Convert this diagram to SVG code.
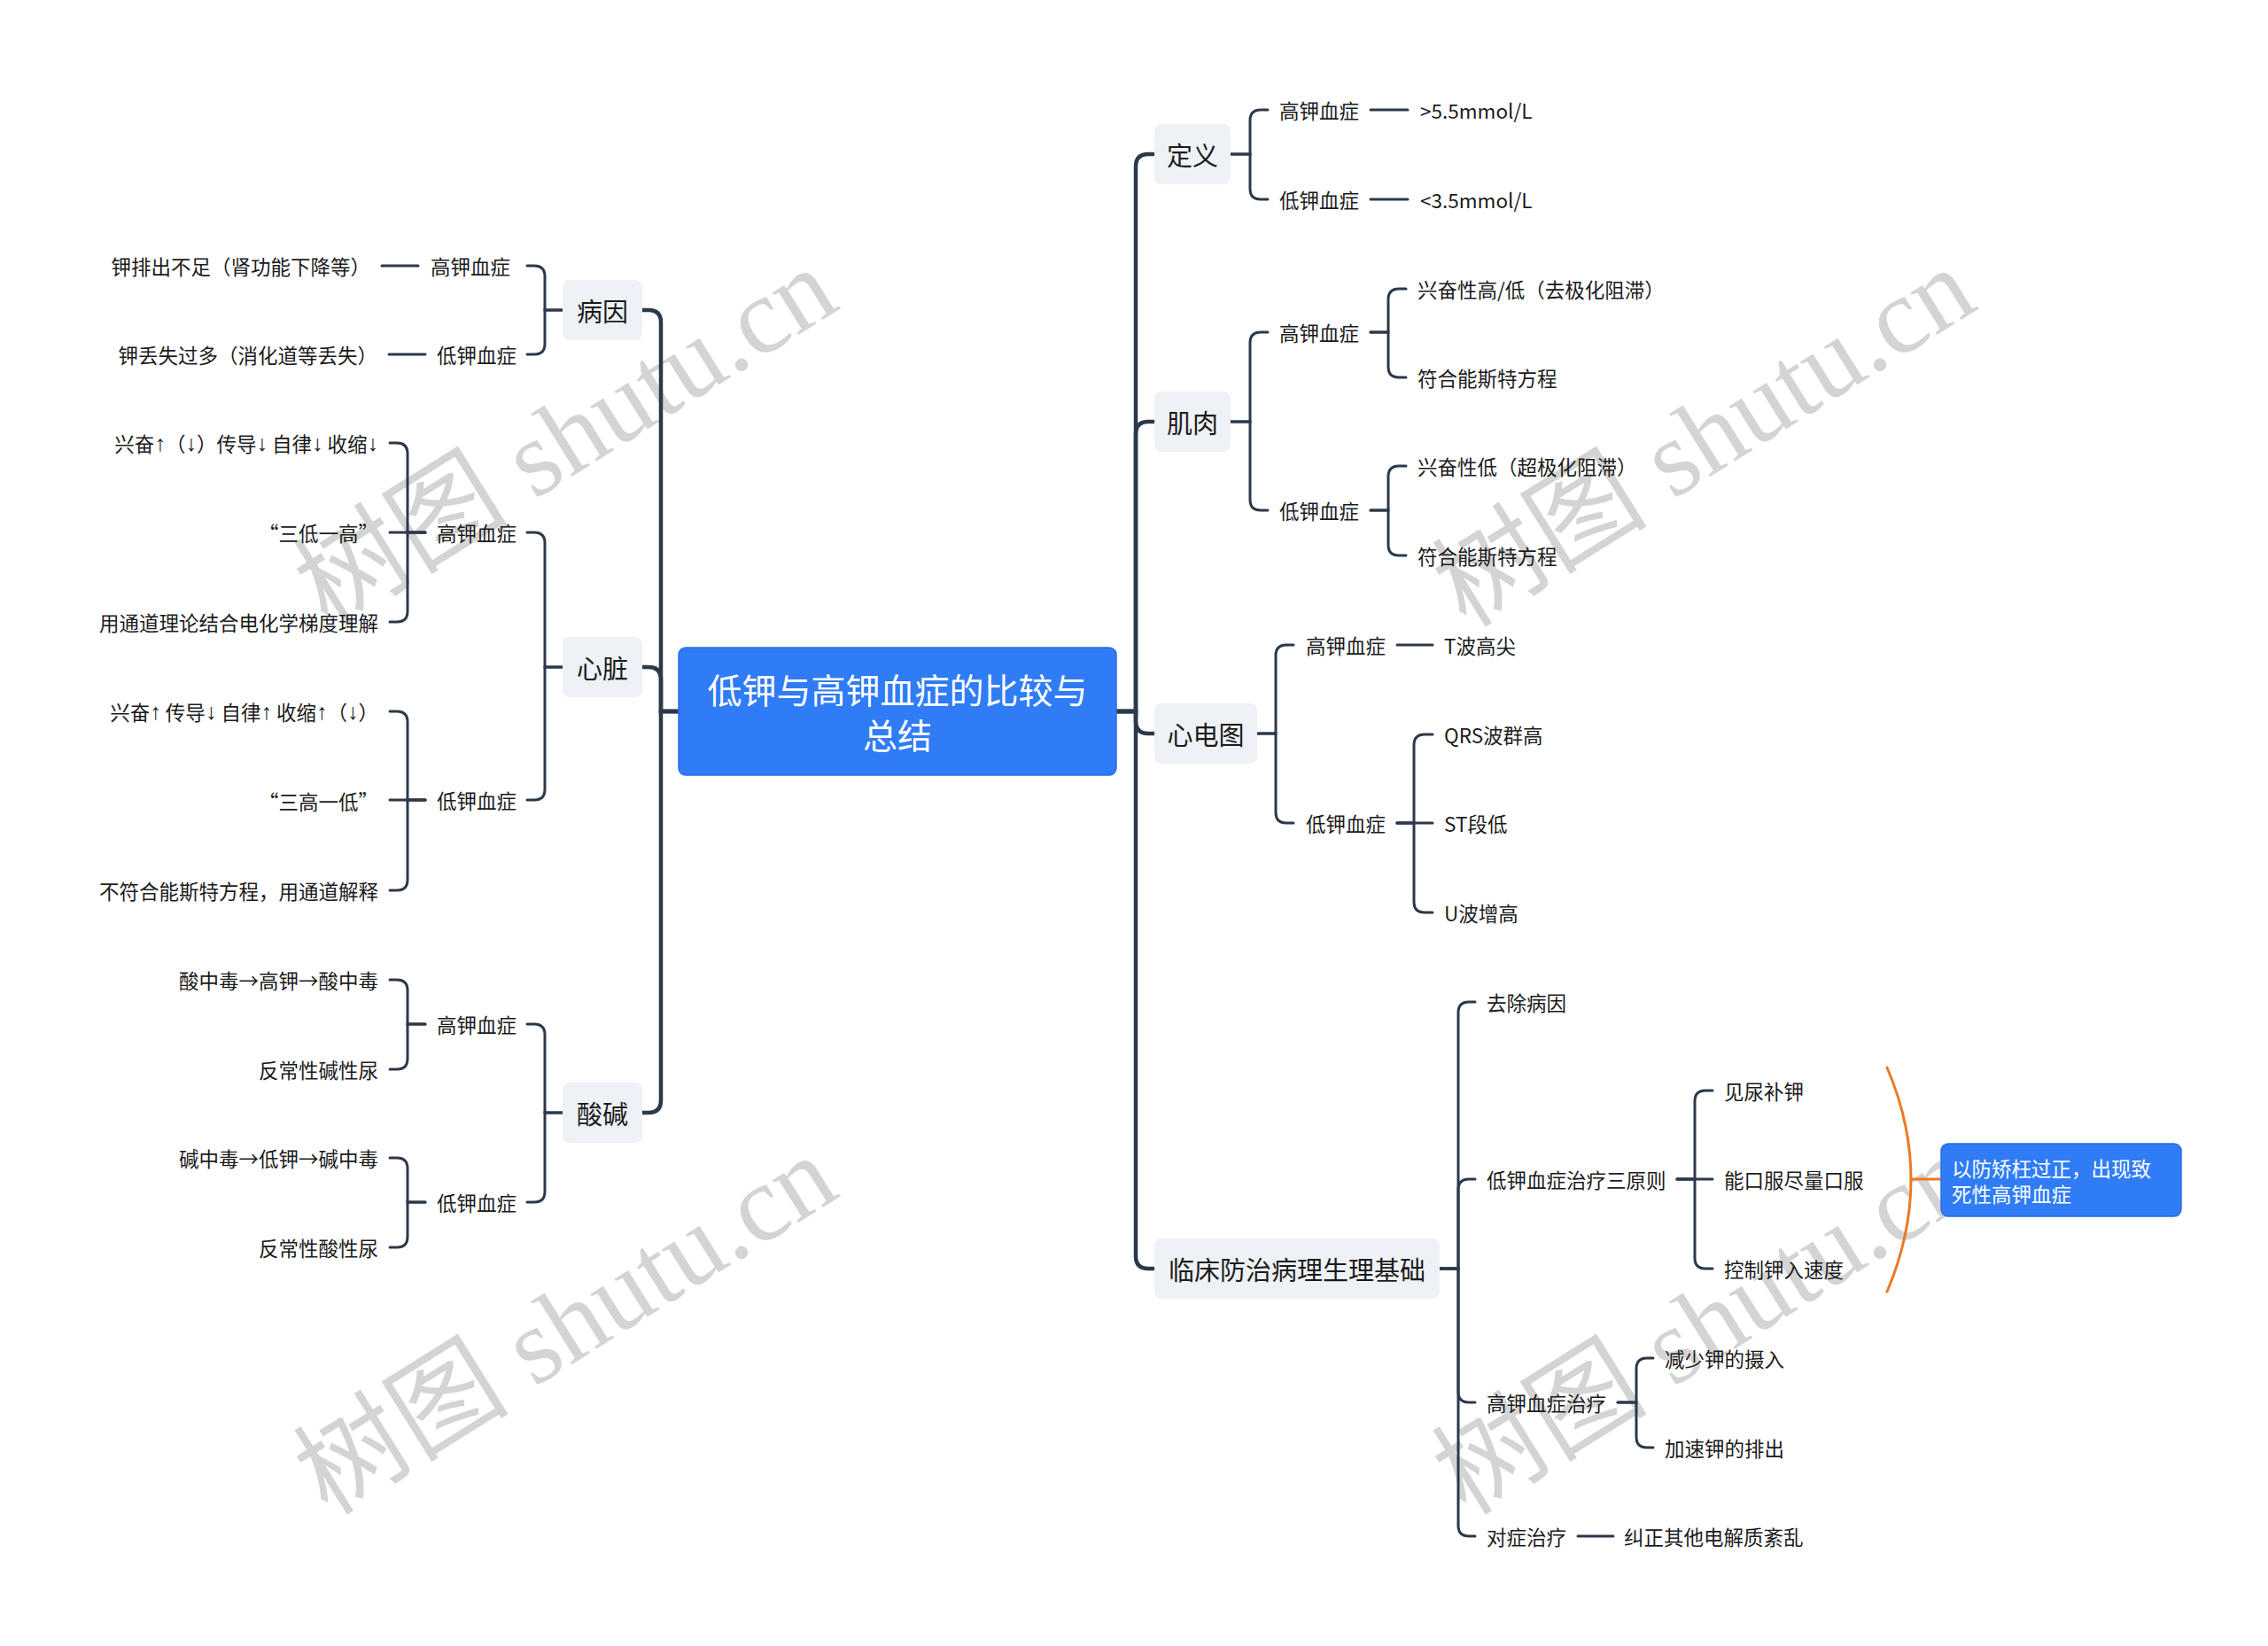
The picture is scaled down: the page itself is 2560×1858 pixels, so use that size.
<svg xmlns="http://www.w3.org/2000/svg" width="2560" height="1858" viewBox="0 0 2560 1858">
<style>
text{font-family:"Noto Sans CJK SC","Noto Sans",sans-serif;dominant-baseline:central;}
.t{font-size:22.5px;fill:#1b1b1b;}
.e{text-anchor:end;}
.l1{font-size:29px;fill:#1b1b1b;text-anchor:middle;}
.root{font-size:39px;fill:#ffffff;text-anchor:middle;}
.sum{font-size:22.5px;fill:#ffffff;}
.ar{font-family:"Liberation Sans",sans-serif;font-size:25px;}
.n1{fill:#eef1f5;}
.wm{font-family:"Liberation Serif","Noto Sans CJK SC",serif;font-size:122px;fill:#d4d4d4;dominant-baseline:alphabetic;}
#connectors path{fill:none;stroke:#2c394b;stroke-width:3;stroke-linecap:round;}
#connectors .trunk{stroke-width:4.5;}
#connectors .orange{stroke:#ea7a25;stroke-width:3;}
</style>
<rect x="0" y="0" width="2560" height="1858" fill="#ffffff"/>
<g id="watermark">
<text class="wm" transform="translate(370,710) rotate(-32)">树图 shutu.cn</text>
<text class="wm" transform="translate(1655,710) rotate(-32)">树图 shutu.cn</text>
<text class="wm" transform="translate(370,1712) rotate(-32)">树图 shutu.cn</text>
<text class="wm" transform="translate(1655,1712) rotate(-32)">树图 shutu.cn</text>
</g>
<g id="connectors">
<path class="trunk" d="M1260 803 H1282 V188 Q1282 174 1296 174 H1303"/>
<path class="trunk" d="M1260 803 H1282 V490 Q1282 476 1296 476 H1303"/>
<path class="trunk" d="M1260 803 H1282 V814 Q1282 828 1296 828 H1303"/>
<path class="trunk" d="M1260 803 H1282 V1418 Q1282 1432 1296 1432 H1303"/>
<path class="trunk" d="M766 803 H746 V364 Q746 350 732 350 H725"/>
<path class="trunk" d="M766 803 H746 V767 Q746 753 732 753 H725"/>
<path class="trunk" d="M766 803 H746 V1242 Q746 1256 732 1256 H725"/>
<path d="M1389 174 H1411 V136 Q1411 124 1423 124 H1431"/>
<path d="M1389 174 H1411 V213 Q1411 225 1423 225 H1431"/>
<path d="M1547 124 H1589"/>
<path d="M1547 225 H1589"/>
<path d="M1389 476 H1411 V387 Q1411 375 1423 375 H1431"/>
<path d="M1389 476 H1411 V564 Q1411 576 1423 576 H1431"/>
<path d="M1547 375 H1567 V338 Q1567 326 1579 326 H1587"/>
<path d="M1547 375 H1567 V414 Q1567 426 1579 426 H1587"/>
<path d="M1547 576 H1567 V538 Q1567 526 1579 526 H1587"/>
<path d="M1547 576 H1567 V615 Q1567 627 1579 627 H1587"/>
<path d="M1419 828 H1440 V740 Q1440 728 1452 728 H1460"/>
<path d="M1419 828 H1440 V917 Q1440 929 1452 929 H1460"/>
<path d="M1577 728 H1617"/>
<path d="M1577 929 H1596 V841 Q1596 829 1608 829 H1617"/>
<path d="M1577 929 H1617"/>
<path d="M1577 929 H1596 V1018 Q1596 1030 1608 1030 H1617"/>
<path d="M1625 1432 H1646 V1143 Q1646 1131 1658 1131 H1665"/>
<path d="M1625 1432 H1646 V1343 Q1646 1331 1658 1331 H1665"/>
<path d="M1625 1432 H1646 V1571 Q1646 1583 1658 1583 H1665"/>
<path d="M1625 1432 H1646 V1722 Q1646 1734 1658 1734 H1665"/>
<path d="M1893 1331 H1913 V1243 Q1913 1231 1925 1231 H1933"/>
<path d="M1893 1331 H1933"/>
<path d="M1893 1331 H1913 V1420 Q1913 1432 1925 1432 H1933"/>
<path d="M1826 1583 H1847 V1545 Q1847 1533 1859 1533 H1866"/>
<path d="M1826 1583 H1847 V1622 Q1847 1634 1859 1634 H1866"/>
<path d="M1781 1734 H1821"/>
<path class="orange" d="M2130 1205 Q2184 1331 2130 1458"/>
<path class="orange" d="M2157 1331 H2191"/>
<path d="M635 350 H615 V312 Q615 300 603 300 H595"/>
<path d="M635 350 H615 V388 Q615 400 603 400 H595"/>
<path d="M472 300 H431"/>
<path d="M480 400 H439"/>
<path d="M635 753 H615 V613 Q615 601 603 601 H595"/>
<path d="M635 753 H615 V891 Q615 903 603 903 H595"/>
<path d="M480 601 H460 V512 Q460 500 448 500 H440"/>
<path d="M480 601 H440"/>
<path d="M480 601 H460 V690 Q460 702 448 702 H440"/>
<path d="M480 903 H460 V815 Q460 803 448 803 H440"/>
<path d="M480 903 H440"/>
<path d="M480 903 H460 V993 Q460 1005 448 1005 H440"/>
<path d="M635 1256 H615 V1168 Q615 1156 603 1156 H595"/>
<path d="M635 1256 H615 V1345 Q615 1357 603 1357 H595"/>
<path d="M480 1156 H460 V1118 Q460 1106 448 1106 H440"/>
<path d="M480 1156 H460 V1195 Q460 1207 448 1207 H440"/>
<path d="M480 1357 H460 V1319 Q460 1307 448 1307 H440"/>
<path d="M480 1357 H460 V1396 Q460 1408 448 1408 H440"/>
</g>
<g id="root">
<rect x="766" y="731" width="494" height="144" rx="8" fill="#2f7cf6" stroke="#2a6fe2" stroke-width="1.5"/>
<text class="root" x="1013" y="777">低钾与高钾血症的比较与</text>
<text class="root" x="1013" y="828">总结</text>
</g>
<g id="n-dingyi"><rect class="n1" x="1303" y="140" width="86" height="68" rx="8"/><text class="l1" x="1346" y="174">定义</text></g>
<g id="n-dingyi-gao"><text class="t" x="1444" y="124">高钾血症</text></g>
<g id="n-dingyi-gao-v"><text class="t" x="1603" y="124">&gt;5.5mmol/L</text></g>
<g id="n-dingyi-di"><text class="t" x="1444" y="225">低钾血症</text></g>
<g id="n-dingyi-di-v"><text class="t" x="1603" y="225">&lt;3.5mmol/L</text></g>
<g id="n-jirou"><rect class="n1" x="1303" y="442" width="86" height="68" rx="8"/><text class="l1" x="1346" y="476">肌肉</text></g>
<g id="n-jirou-gao"><text class="t" x="1444" y="375">高钾血症</text></g>
<g id="n-jirou-gao-1"><text class="t" x="1600" y="326">兴奋性高/低（去极化阻滞）</text></g>
<g id="n-jirou-gao-2"><text class="t" x="1600" y="426">符合能斯特方程</text></g>
<g id="n-jirou-di"><text class="t" x="1444" y="576">低钾血症</text></g>
<g id="n-jirou-di-1"><text class="t" x="1600" y="526">兴奋性低（超极化阻滞）</text></g>
<g id="n-jirou-di-2"><text class="t" x="1600" y="627">符合能斯特方程</text></g>
<g id="n-xdt"><rect class="n1" x="1303" y="794" width="116" height="68" rx="8"/><text class="l1" x="1361" y="828">心电图</text></g>
<g id="n-xdt-gao"><text class="t" x="1474" y="728">高钾血症</text></g>
<g id="n-xdt-gao-1"><text class="t" x="1630" y="728">T波高尖</text></g>
<g id="n-xdt-di"><text class="t" x="1474" y="929">低钾血症</text></g>
<g id="n-xdt-di-1"><text class="t" x="1630" y="829">QRS波群高</text></g>
<g id="n-xdt-di-2"><text class="t" x="1630" y="929">ST段低</text></g>
<g id="n-xdt-di-3"><text class="t" x="1630" y="1030">U波增高</text></g>
<g id="n-lc"><rect class="n1" x="1303" y="1398" width="322" height="68" rx="8"/><text class="l1" x="1464" y="1432">临床防治病理生理基础</text></g>
<g id="n-lc-1"><text class="t" x="1678" y="1131">去除病因</text></g>
<g id="n-lc-2"><text class="t" x="1678" y="1331">低钾血症治疗三原则</text></g>
<g id="n-lc-2-1"><text class="t" x="1946" y="1231">见尿补钾</text></g>
<g id="n-lc-2-2"><text class="t" x="1946" y="1331">能口服尽量口服</text></g>
<g id="n-lc-2-3"><text class="t" x="1946" y="1432">控制钾入速度</text></g>
<g id="n-summary"><rect x="2191" y="1291" width="271" height="82" rx="8" fill="#2f7cf6" stroke="#2a6fe2" stroke-width="1.5"/><text class="sum" x="2203" y="1318">以防矫枉过正，出现致</text><text class="sum" x="2203" y="1347">死性高钾血症</text></g>
<g id="n-lc-3"><text class="t" x="1678" y="1583">高钾血症治疗</text></g>
<g id="n-lc-3-1"><text class="t" x="1879" y="1533">减少钾的摄入</text></g>
<g id="n-lc-3-2"><text class="t" x="1879" y="1634">加速钾的排出</text></g>
<g id="n-lc-4"><text class="t" x="1678" y="1734">对症治疗</text></g>
<g id="n-lc-4-1"><text class="t" x="1833" y="1734">纠正其他电解质紊乱</text></g>
<g id="n-bingyin"><rect class="n1" x="635" y="316" width="90" height="68" rx="8"/><text class="l1" x="680" y="350">病因</text></g>
<g id="n-bingyin-gao"><text class="t e" x="576" y="300">高钾血症</text></g>
<g id="n-bingyin-gao-1"><text class="t e" x="418" y="300">钾排出不足（肾功能下降等）</text></g>
<g id="n-bingyin-di"><text class="t e" x="583" y="400">低钾血症</text></g>
<g id="n-bingyin-di-1"><text class="t e" x="426" y="400">钾丢失过多（消化道等丢失）</text></g>
<g id="n-xinzang"><rect class="n1" x="635" y="719" width="90" height="68" rx="8"/><text class="l1" x="680" y="753">心脏</text></g>
<g id="n-xinzang-gao"><text class="t e" x="583" y="601">高钾血症</text></g>
<g id="n-xinzang-gao-1"><text class="t e" x="427" y="500">兴奋<tspan class="ar">↑</tspan>（<tspan class="ar">↓</tspan>）传导<tspan class="ar">↓</tspan> 自律<tspan class="ar">↓</tspan> 收缩<tspan class="ar">↓</tspan></text></g>
<g id="n-xinzang-gao-2"><text class="t e" x="427" y="601">“三低一高”</text></g>
<g id="n-xinzang-gao-3"><text class="t e" x="427" y="702">用通道理论结合电化学梯度理解</text></g>
<g id="n-xinzang-di"><text class="t e" x="583" y="903">低钾血症</text></g>
<g id="n-xinzang-di-1"><text class="t e" x="427" y="803">兴奋<tspan class="ar">↑</tspan> 传导<tspan class="ar">↓</tspan> 自律<tspan class="ar">↑</tspan> 收缩<tspan class="ar">↑</tspan>（<tspan class="ar">↓</tspan>）</text></g>
<g id="n-xinzang-di-2"><text class="t e" x="427" y="904">“三高一低”</text></g>
<g id="n-xinzang-di-3"><text class="t e" x="427" y="1005">不符合能斯特方程，用通道解释</text></g>
<g id="n-suanjian"><rect class="n1" x="635" y="1222" width="90" height="68" rx="8"/><text class="l1" x="680" y="1256">酸碱</text></g>
<g id="n-suanjian-gao"><text class="t e" x="583" y="1156">高钾血症</text></g>
<g id="n-suanjian-gao-1"><text class="t e" x="427" y="1106">酸中毒→高钾→酸中毒</text></g>
<g id="n-suanjian-gao-2"><text class="t e" x="427" y="1207">反常性碱性尿</text></g>
<g id="n-suanjian-di"><text class="t e" x="583" y="1357">低钾血症</text></g>
<g id="n-suanjian-di-1"><text class="t e" x="427" y="1307">碱中毒→低钾→碱中毒</text></g>
<g id="n-suanjian-di-2"><text class="t e" x="427" y="1408">反常性酸性尿</text></g>
</svg>
